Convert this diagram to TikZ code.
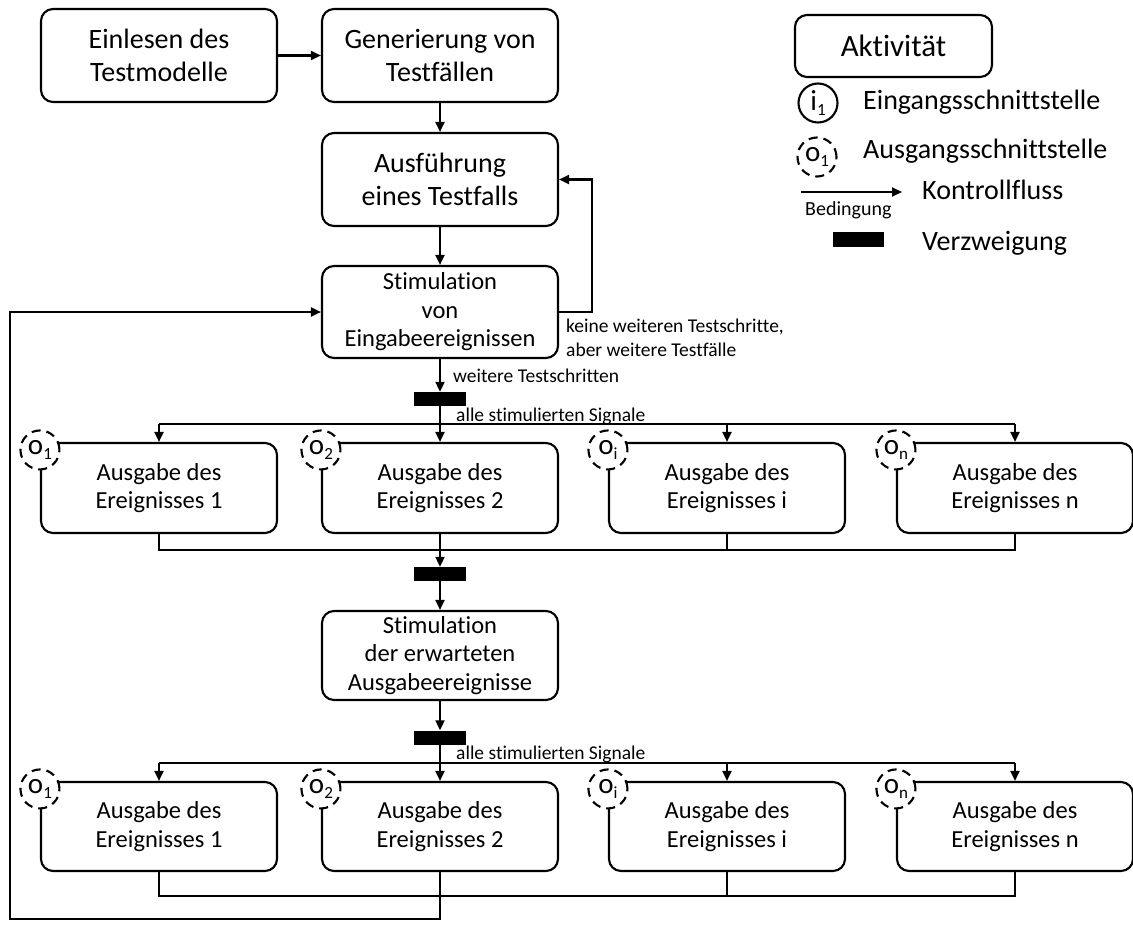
\documentclass[tikz,border=0pt]{standalone}
\usepackage{fontspec}
\setmainfont{Carlito}[Ligatures=NoCommon]
\usetikzlibrary{arrows.meta}
\newcommand{\portsub}[1]{\raisebox{-5pt}{\fontsize{17}{17}\selectfont #1}}
\begin{document}
\begin{tikzpicture}[x=1pt,y=-1pt,
  box/.style={draw, line width=2.1pt, rounded corners=12pt, minimum width=236pt,
    minimum height=91pt, align=center, inner sep=0pt},
  bigfont/.style={font=\fontsize{28}{33}\selectfont},
  midfont/.style={font=\fontsize{24.5}{28.5}\selectfont},
  lblfont/.style={font=\fontsize{19.5}{23.5}\selectfont},
  legfont/.style={font=\fontsize{28}{33}\selectfont},
  lbl/.style={inner sep=0pt, align=left},
  bar/.style={fill=black, minimum width=52pt, minimum height=14pt, inner sep=0pt},
  flow/.style={line width=2.1pt, -{Triangle[length=10pt,width=9pt]}},
  wire/.style={line width=2.1pt},
  port/.style={circle, draw, line width=2.1pt, fill=white, minimum size=39pt,
    inner sep=0pt, font=\fontsize{29}{29}\selectfont},
  outport/.style={port, dash pattern=on 9pt off 6pt},
]
\useasboundingbox (0,0) rectangle (1133,947);

% main flow
\node[box, bigfont, minimum height=93pt] (n1) at (159,55.5) {Einlesen des\\Testmodelle};
\node[box, bigfont, minimum height=93pt] (n2) at (440,55.5) {Generierung von\\Testfällen};
\node[box, bigfont, minimum height=93pt] (n3) at (440,179.5) {Ausführung\\eines Testfalls};
\node[box, midfont, minimum height=92pt] (n4) at (440,312) {Stimulation\\von\\Eingabeereignissen};
\node[bar] (bar1) at (440,399) {};

% first row of output activities
\node[box, midfont, minimum height=90pt] (a1) at (159,488) {Ausgabe des\\Ereignisses 1};
\node[box, midfont, minimum height=90pt] (a2) at (440,488) {Ausgabe des\\Ereignisses 2};
\node[box, midfont, minimum height=90pt] (a3) at (727,488) {Ausgabe des\\Ereignisses i};
\node[box, midfont, minimum height=90pt] (a4) at (1015,488) {Ausgabe des\\Ereignisses n};

\node[bar] (bar2) at (440,574) {};
\node[box, midfont, minimum height=89pt] (n5) at (440,655.5) {Stimulation\\der erwarteten\\Ausgabeereignisse};
\node[bar] (bar3) at (440,737.5) {};

% second row of output activities
\node[box, midfont, minimum height=89pt] (b1) at (159,826.5) {Ausgabe des\\Ereignisses 1};
\node[box, midfont, minimum height=89pt] (b2) at (440,826.5) {Ausgabe des\\Ereignisses 2};
\node[box, midfont, minimum height=89pt] (b3) at (727,826.5) {Ausgabe des\\Ereignisses i};
\node[box, midfont, minimum height=89pt] (b4) at (1015,826.5) {Ausgabe des\\Ereignisses n};

% output interfaces on the activity corners
\node[outport] (pa1) at ([yshift=-8pt]a1.north west) {o\portsub{1}};
\node[outport] (pa2) at ([yshift=-8pt]a2.north west) {o\portsub{2}};
\node[outport] (pa3) at ([yshift=-8pt]a3.north west) {o\portsub{i}};
\node[outport] (pa4) at ([yshift=-8pt]a4.north west) {o\portsub{n}};
\node[outport] (pb1) at ([yshift=-8pt]b1.north west) {o\portsub{1}};
\node[outport] (pb2) at ([yshift=-8pt]b2.north west) {o\portsub{2}};
\node[outport] (pb3) at ([yshift=-8pt]b3.north west) {o\portsub{i}};
\node[outport] (pb4) at ([yshift=-8pt]b4.north west) {o\portsub{n}};

% connectors
\draw[flow] (n1) -- (n2);
\draw[flow] (n2) -- (n3);
\draw[flow] (n3) -- (n4);
\draw[flow] (n4.east) -- ++(33,0) |- (n3.east);
\draw[flow] (n4) -- (bar1);

\coordinate (split1) at (440,424);
\draw[flow] (bar1) -- (a2);
\draw[wire] (a1.north |- split1) -- (a4.north |- split1);
\draw[flow] (a1.north |- split1) -- (a1.north);
\draw[flow] (a3.north |- split1) -- (a3.north);
\draw[flow] (a4.north |- split1) -- (a4.north);

\coordinate (join1) at (440,550);
\draw[wire] (a1.south) -- (a1.south |- join1) -- (a4.south |- join1) -- (a4.south);
\draw[wire] (a3.south) -- (a3.south |- join1);
\draw[flow] (a2) -- (bar2);
\draw[flow] (bar2) -- (n5);
\draw[flow] (n5) -- (bar3);

\coordinate (split2) at (440,763);
\draw[flow] (bar3) -- (b2);
\draw[wire] (b1.north |- split2) -- (b4.north |- split2);
\draw[flow] (b1.north |- split2) -- (b1.north);
\draw[flow] (b3.north |- split2) -- (b3.north);
\draw[flow] (b4.north |- split2) -- (b4.north);

\coordinate (join2) at (440,896);
\draw[wire] (b1.south) -- (b1.south |- join2) -- (b4.south |- join2) -- (b4.south);
\draw[wire] (b3.south) -- (b3.south |- join2);
\coordinate (ret) at (10,919);
\draw[flow] (b2.south) |- (ret) |- (n4.west);

% connector labels
\node[lbl, lblfont, anchor=north west] (lkeine) at (566,319) {keine weiteren Testschritte,\\aber weitere Testfälle};
\node[lbl, lblfont, anchor=base west] (lweiter) at (453,382) {weitere Testschritten};
\node[lbl, lblfont, anchor=base west] (lalle1) at (456,421) {alle stimulierten Signale};
\node[lbl, lblfont, anchor=base west] (lalle2) at (456,759) {alle stimulierten Signale};

% legend
\node[box, font=\fontsize{31}{31}\selectfont, minimum width=197pt, minimum height=62pt] (legact) at (893.5,46) {Aktivität};
\node[port] (legin) at (818,103) {i\portsub{1}};
\node[outport] (legout) at (817,157) {o\portsub{1}};
\node[lbl, legfont, anchor=base west] (legintxt) at (863,110) {Eingangsschnittstelle};
\node[lbl, legfont, anchor=base west] (legouttxt) at (863,159) {Ausgangsschnittstelle};
\coordinate (legA) at (801,192);
\coordinate (legB) at (902,192);
\draw[flow] (legA) -- (legB);
\node[lbl, legfont, anchor=base west] (legflow) at (922,200) {Kontrollfluss};
\node[lbl, font=\fontsize{20}{20}\selectfont, anchor=base west] (legcond) at (805,215) {Bedingung};
\node[bar, minimum width=51pt, minimum height=15pt] (legbar) at (858.5,239.5) {};
\node[lbl, legfont, anchor=base west] (legbartxt) at (922,250) {Verzweigung};
\end{tikzpicture}
\end{document}
